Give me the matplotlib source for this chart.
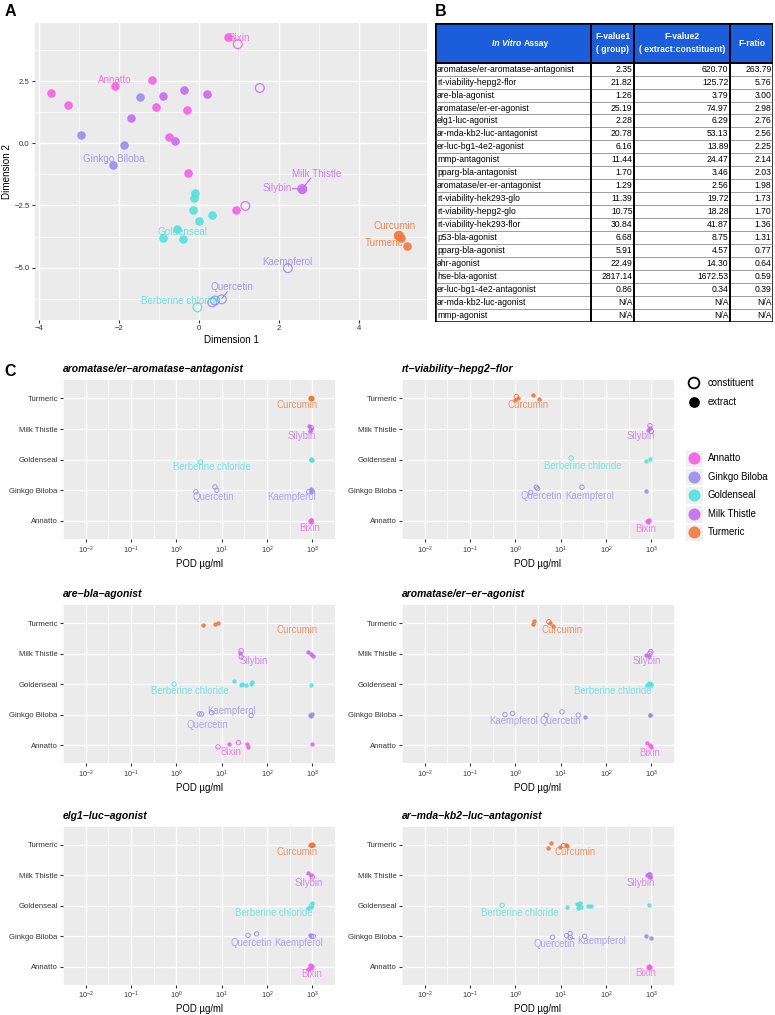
import numpy as np
import matplotlib
matplotlib.use("Agg")
import matplotlib.pyplot as plt
from matplotlib.patches import Rectangle
from matplotlib.ticker import LogFormatterMathtext, MultipleLocator

plt.rcParams['font.family'] = ['Liberation Sans', 'DejaVu Sans']
plt.rcParams['mathtext.default'] = 'regular'

W, H = 775, 1015

GROUPS = ['Annatto', 'Ginkgo Biloba', 'Goldenseal', 'Milk Thistle', 'Turmeric']
COLORS = {'Annatto': '#F95CE8', 'Ginkgo Biloba': '#9B8CEE', 'Goldenseal': '#50E3DE',
          'Milk Thistle': '#C66BF2', 'Turmeric': '#F4763A'}
AN, GB, GS, MT, TU = GROUPS

# ---- panel A: MDS coordinates (group, kind E=extract / C=constituent, dim1, dim2)
pca_points = [
    (AN, 'E', -3.69, 2.01), (AN, 'E', -3.27, 1.55), (AN, 'E', -2.11, 2.29), (AN, 'E', -1.18, 2.54),
    (AN, 'E', -1.08, 1.45), (AN, 'E', -0.74, 0.25), (AN, 'E', -0.31, 1.34), (AN, 'E', -0.27, -1.18),
    (AN, 'E', 0.93, -2.67), (AN, 'E', 0.73, 4.27), (AN, 'C', 0.97, 3.98),
    (GB, 'E', -1.48, 1.87), (GB, 'E', -2.96, 0.33), (GB, 'E', -1.88, -0.06), (GB, 'E', -2.14, -0.88),
    (GB, 'C', 2.22, -5.02), (GB, 'C', 0.33, -6.39), (GB, 'C', 0.40, -6.32), (GB, 'C', 0.57, -6.27),
    (GS, 'E', -0.11, -2.01), (GS, 'E', -0.125, -2.20), (GS, 'E', -0.16, -2.68), (GS, 'E', 0.0, -3.11),
    (GS, 'E', 0.32, -2.88), (GS, 'E', -0.54, -3.45), (GS, 'E', -0.89, -3.79), (GS, 'E', -0.41, -3.83),
    (GS, 'C', -0.04, -6.59),
    (MT, 'E', -0.89, 1.89), (MT, 'E', -0.37, 2.14), (MT, 'E', 0.21, 1.99), (MT, 'E', -1.69, 1.02),
    (MT, 'E', -0.61, 0.09), (MT, 'E', 2.58, -1.84), (MT, 'C', 2.58, -1.84),
    (MT, 'C', 1.52, 2.22), (MT, 'C', 1.16, -2.52),
    (TU, 'E', 4.98, -3.70), (TU, 'E', 5.05, -3.80), (TU, 'E', 5.20, -4.11), (TU, 'C', 5.00, -3.72),
]
pca_labels = [
    ('Bixin', AN, 1.01, 4.24), ('Annatto', AN, -2.10, 2.54), ('Ginkgo Biloba', GB, -2.14, -0.63),
    ('Milk Thistle', MT, 2.94, -1.25), ('Silybin', MT, 1.95, -1.81), ('Goldenseal', GS, -0.40, -3.57),
    ('Curcumin', TU, 4.89, -3.32), ('Turmeric', TU, 4.63, -4.02), ('Kaempferol', GB, 2.21, -4.78),
    ('Quercetin', GB, 0.83, -5.76), ('Berberine chloride', GS, -0.44, -6.32),
]
pca_leaders = [((2.34, -1.82), (2.58, -1.84)), ((2.79, -1.41), (2.60, -1.80)),
               ((0.71, -5.96), (0.57, -6.24))]

# ---- panel B: table
assays = ['aromatase/er-aromatase-antagonist', 'rt-viability-hepg2-flor', 'are-bla-agonist',
          'aromatase/er-er-agonist', 'elg1-luc-agonist', 'ar-mda-kb2-luc-antagonist',
          'er-luc-bg1-4e2-agonist', 'mmp-antagonist', 'pparg-bla-antagonist',
          'aromatase/er-er-antagonist', 'rt-viability-hek293-glo', 'rt-viability-hepg2-glo',
          'rt-viability-hek293-flor', 'p53-bla-agonist', 'pparg-bla-agonist', 'ahr-agonist',
          'hse-bla-agonist', 'er-luc-bg1-4e2-antagonist', 'ar-mda-kb2-luc-agonist', 'mmp-agonist']
f_value1 = [2.35, 21.82, 1.26, 25.19, 2.28, 20.78, 6.16, 11.44, 1.70, 1.29, 11.39, 10.75,
            30.84, 6.68, 5.91, 22.49, 2817.14, 0.86, None, None]
f_value2 = [620.70, 125.72, 3.79, 74.97, 6.29, 53.13, 13.89, 24.47, 3.46, 2.56, 19.72, 18.28,
            41.87, 8.75, 4.57, 14.30, 1672.53, 0.34, None, None]
f_ratio = [263.79, 5.76, 3.00, 2.98, 2.76, 2.56, 2.25, 2.14, 2.03, 1.98, 1.73, 1.70,
           1.36, 1.31, 0.77, 0.64, 0.59, 0.39, None, None]

# ---- panel C: POD values (group, kind, POD ug/ml, row position incl. jitter)
p_arom_antag = [
    (TU, 'E', 891, 5.0), (TU, 'E', 933, 5.02), (TU, 'E', 955, 4.99), (TU, 'E', 977, 5.01), (TU, 'C', 955, 5.0),
    (MT, 'E', 832, 4.11), (MT, 'C', 955, 4.04), (MT, 'E', 891, 3.94), (MT, 'E', 912, 4.0),
    (GS, 'E', 955, 3.0), (GS, 'E', 977, 2.98), (GS, 'E', 933, 3.02), (GS, 'C', 3.4, 2.92),
    (GB, 'C', 7.1, 2.11), (GB, 'C', 7.8, 2.0), (GB, 'C', 2.7, 1.95), (GB, 'E', 955, 2.05),
    (GB, 'C', 832, 1.95), (GB, 'C', 1000, 1.96), (GB, 'E', 933, 1.98),
    (AN, 'E', 891, 1.0), (AN, 'E', 933, 1.02), (AN, 'E', 955, 0.98), (AN, 'E', 912, 1.04),
]
l_arom_antag = [('Curcumin', TU, 468, 4.79), ('Silybin', MT, 589, 3.76), ('Berberine chloride', GS, 6.0, 2.76),
                ('Quercetin', GB, 6.5, 1.79), ('Kaempferol', GB, 347, 1.79), ('Bixin', AN, 891, 0.76)]

p_hepg2_flor = [
    (TU, 'C', 1.05, 5.06), (TU, 'E', 1.12, 5.0), (TU, 'E', 1.0, 4.96), (TU, 'E', 2.4, 5.12), (TU, 'E', 3.3, 4.98),
    (MT, 'C', 933, 4.11), (MT, 'E', 912, 4.03), (MT, 'E', 851, 3.98), (MT, 'C', 1000, 3.92),
    (GS, 'E', 776, 2.95), (GS, 'E', 955, 3.03), (GS, 'C', 17, 3.05),
    (GB, 'C', 2.9, 2.1), (GB, 'C', 3.1, 2.05), (GB, 'C', 2.2, 1.93), (GB, 'C', 29.5, 2.1), (GB, 'E', 776, 1.97),
    (AN, 'E', 794, 1.0), (AN, 'E', 851, 0.98), (AN, 'E', 871, 1.02),
]
l_hepg2_flor = [('Curcumin', TU, 1.9, 4.79), ('Silybin', MT, 575, 3.76), ('Berberine chloride', GS, 31, 2.78),
                ('Quercetin', GB, 3.8, 1.81), ('Kaempferol', GB, 42.7, 1.81), ('Bixin', AN, 759, 0.75)]

p_are_bla = [
    (TU, 'E', 3.8, 4.94), (TU, 'E', 7.1, 4.98), (TU, 'E', 8.3, 5.02),
    (MT, 'C', 26.9, 4.1), (MT, 'E', 25.7, 4.03), (MT, 'C', 26.9, 3.9), (MT, 'E', 813, 4.05),
    (MT, 'E', 912, 3.98), (MT, 'E', 1047, 3.94),
    (GS, 'C', 0.89, 3.0), (GS, 'E', 18.6, 3.09), (GS, 'E', 26.9, 2.97), (GS, 'E', 28.8, 3.02),
    (GS, 'E', 34.7, 2.97), (GS, 'E', 44.7, 3.02), (GS, 'E', 45.7, 3.07), (GS, 'E', 955, 2.97),
    (GB, 'C', 3.2, 2.02), (GB, 'C', 3.6, 2.02), (GB, 'C', 6.0, 2.06), (GB, 'C', 44.7, 1.97),
    (GB, 'E', 871, 2.0), (GB, 'E', 955, 1.97), (GB, 'E', 1000, 2.02),
    (AN, 'C', 8.3, 0.94), (AN, 'E', 14.8, 1.05), (AN, 'C', 23.4, 1.08), (AN, 'E', 36.3, 1.03),
    (AN, 'E', 38, 0.94), (AN, 'E', 1000, 1.03),
]
l_are_bla = [('Curcumin', TU, 468, 4.78), ('Silybin', MT, 51, 3.76), ('Berberine chloride', GS, 1.95, 2.78),
             ('Kaempferol', GB, 16.6, 2.13), ('Quercetin', GB, 4.9, 1.67), ('Bixin', AN, 15.8, 0.78)]

p_er_agonist = [
    (TU, 'E', 2.6, 5.09), (TU, 'E', 2.5, 4.96), (TU, 'C', 5.5, 5.05), (TU, 'E', 5.8, 5.0), (TU, 'E', 6.9, 4.92),
    (MT, 'E', 776, 3.96), (MT, 'C', 933, 4.01), (MT, 'C', 977, 4.07), (MT, 'E', 871, 3.94),
    (GS, 'E', 794, 2.98), (GS, 'E', 891, 3.03), (GS, 'E', 955, 3.0), (GS, 'C', 977, 2.95), (GS, 'E', 1000, 3.02),
    (GB, 'C', 0.59, 2.0), (GB, 'C', 0.87, 2.04), (GB, 'C', 4.8, 1.97), (GB, 'C', 10.7, 2.09),
    (GB, 'C', 24.5, 1.98), (GB, 'E', 33.9, 1.93), (GB, 'E', 912, 2.0), (GB, 'E', 955, 2.0),
    (AN, 'E', 794, 1.07), (AN, 'E', 912, 1.0), (AN, 'E', 1000, 0.92),
]
l_er_agonist = [('Curcumin', TU, 10.5, 4.78), ('Silybin', MT, 776, 3.76), ('Berberine chloride', GS, 138, 2.78),
                ('Kaempferol', GB, 0.91, 1.78), ('Quercetin', GB, 9.8, 1.78), ('Bixin', AN, 933, 0.75)]

p_elg1 = [
    (TU, 'E', 891, 5.0), (TU, 'E', 933, 5.01), (TU, 'E', 977, 4.99), (TU, 'E', 1047, 5.0), (TU, 'C', 1000, 5.0),
    (MT, 'E', 813, 4.09), (MT, 'E', 933, 4.0), (MT, 'C', 1000, 3.95),
    (GS, 'E', 1000, 3.1), (GS, 'E', 912, 2.97), (GS, 'E', 813, 2.92), (GS, 'C', 955, 3.0),
    (GB, 'C', 38, 2.03), (GB, 'C', 58.9, 2.08), (GB, 'E', 871, 2.03), (GB, 'C', 955, 2.0), (GB, 'C', 1047, 2.0),
    (AN, 'E', 813, 0.92), (AN, 'E', 891, 1.05), (AN, 'E', 955, 0.97), (AN, 'E', 1000, 1.03), (AN, 'E', 871, 0.95),
]
l_elg1 = [('Curcumin', TU, 468, 4.76), ('Silybin', MT, 813, 3.74), ('Berberine chloride', GS, 141, 2.77),
          ('Quercetin', GB, 45.7, 1.77), ('Kaempferol', GB, 500, 1.77), ('Bixin', AN, 977, 0.77)]

p_ar_antag = [
    (TU, 'E', 6.0, 5.08), (TU, 'E', 5.2, 4.9), (TU, 'C', 11.5, 4.98), (TU, 'E', 9.8, 4.94),
    (TU, 'E', 14.1, 4.96), (TU, 'E', 13.0, 5.0),
    (MT, 'E', 794, 4.0), (MT, 'E', 871, 4.04), (MT, 'E', 955, 3.96), (MT, 'C', 933, 4.02), (MT, 'E', 912, 3.94),
    (GS, 'C', 0.51, 3.02), (GS, 'E', 14.1, 2.97), (GS, 'E', 23.4, 3.06), (GS, 'E', 25.7, 3.02),
    (GS, 'E', 24.5, 2.94), (GS, 'E', 27.5, 2.97), (GS, 'E', 26.3, 3.08), (GS, 'E', 39.8, 3.0),
    (GS, 'E', 46.8, 2.98), (GS, 'E', 891, 3.02),
    (GB, 'C', 6.6, 1.97), (GB, 'C', 13.5, 2.02), (GB, 'C', 16.2, 2.09), (GB, 'C', 16.2, 1.96),
    (GB, 'C', 33.9, 2.0), (GB, 'E', 776, 2.02), (GB, 'E', 977, 1.93),
    (AN, 'E', 851, 1.0), (AN, 'E', 891, 1.03), (AN, 'E', 933, 0.98), (AN, 'E', 871, 0.96),
]
l_ar_antag = [('Curcumin', TU, 21, 4.76), ('Silybin', MT, 575, 3.76), ('Berberine chloride', GS, 1.23, 2.76),
              ('Quercetin', GB, 7.4, 1.75), ('Kaempferol', GB, 81, 1.86), ('Bixin', AN, 759, 0.78)]

panels = [
    ('aromatase/er\u2212aromatase\u2212antagonist', p_arom_antag, l_arom_antag, (63, 380, 335, 539.3)),
    ('rt\u2212viability\u2212hepg2\u2212flor', p_hepg2_flor, l_hepg2_flor, (402, 380, 674, 539.3)),
    ('are\u2212bla\u2212agonist', p_are_bla, l_are_bla, (63, 605, 335, 763.3)),
    ('aromatase/er\u2212er\u2212agonist', p_er_agonist, l_er_agonist, (402, 605, 674, 763.3)),
    ('elg1\u2212luc\u2212agonist', p_elg1, l_elg1, (63, 826.7, 335, 985)),
    ('ar\u2212mda\u2212kb2\u2212luc\u2212antagonist', p_ar_antag, l_ar_antag, (402, 826.7, 674, 985)),
]


def rect(l, t, r, b):
    return [l / W, 1 - b / H, (r - l) / W, (b - t) / H]


def gg_style(ax):
    ax.set_facecolor('#EBEBEB')
    for s in ax.spines.values():
        s.set_visible(False)
    ax.set_axisbelow(True)
    ax.tick_params(which='major', length=2.2, width=0.8, color='#333333',
                   labelsize=5.6, labelcolor='#333333', pad=1.5)
    ax.tick_params(which='minor', length=0)


def scatter_points(ax, pts, s_fill, s_open, lw, alpha):
    for g, k, x, y in pts:
        c = COLORS[g]
        if k == 'E':
            ax.scatter(x, y, s=s_fill, color=c, alpha=alpha, lw=0, zorder=3)
        else:
            ax.scatter(x, y, s=s_open, facecolor='none', edgecolor=c, lw=lw, alpha=alpha, zorder=4)


fig = plt.figure(figsize=(W / 100, H / 100), dpi=100)

# ---------------- A ----------------
axA = fig.add_axes(rect(35, 23, 427, 320))
gg_style(axA)
axA.set_xlim(-4.1, 5.7)
axA.set_ylim(-7.1, 4.83)
axA.xaxis.set_major_locator(MultipleLocator(2))
axA.xaxis.set_minor_locator(MultipleLocator(1))
axA.yaxis.set_major_locator(MultipleLocator(2.5))
axA.yaxis.set_minor_locator(MultipleLocator(1.25))
axA.grid(True, which='major', color='white', lw=1.0)
axA.grid(True, which='minor', color='white', lw=0.5)
scatter_points(axA, pca_points, 38, 40, 0.9, 0.9)
for txt, g, x, y in pca_labels:
    axA.text(x, y, txt, color=COLORS[g], fontsize=7.1, ha='center', va='center', alpha=0.85, zorder=5)
for (x0, y0), (x1, y1) in pca_leaders:
    axA.plot([x0, x1], [y0, y1], color=COLORS[MT] if y0 > -3 else COLORS[GB], lw=0.8, zorder=4)
axA.set_xlabel('Dimension 1', fontsize=7.1, labelpad=2)
axA.set_ylabel('Dimension 2', fontsize=7.1, labelpad=2)
fig.text(5 / W, 1 - 16 / H, 'A', fontsize=11.5, fontweight='bold')

# ---------------- B ----------------
axB = fig.add_axes(rect(435, 22.7, 773, 321.7))
axB.set_xlim(0, 338)
axB.set_ylim(299, 0)
axB.axis('off')
col_edges = [0, 156, 199, 295, 338]
head_h = 40
row_h = (299 - head_h) / len(assays)
axB.add_patch(Rectangle((0, 0), 338, head_h, facecolor='#1C5DDB', edgecolor='none'))
fs = 6.2
axB.text(86.5, 20.6, 'In Vitro', color='white', fontsize=fs, fontweight='bold', fontstyle='italic',
         ha='right', va='center')
axB.text(88.5, 20.6, 'Assay', color='white', fontsize=fs, fontweight='bold', ha='left', va='center')
heads = ['F-value1\n( group)', 'F-value2\n( extract:constituent)', 'F-ratio']
for i, h in enumerate(heads):
    cx = (col_edges[i + 1] + col_edges[i + 2]) / 2
    axB.text(cx, 20.6, h, color='white', fontsize=fs, fontweight='bold', ha='center', va='center',
             linespacing=1.6)
for i, name in enumerate(assays):
    yc = head_h + (i + 0.5) * row_h
    axB.text(2, yc, name, fontsize=fs, ha='left', va='center')
    for j, v in enumerate([f_value1[i], f_value2[i], f_ratio[i]]):
        s = 'N/A' if v is None else f'{v:.2f}'
        axB.text(col_edges[j + 2] - 1.5, yc, s, fontsize=fs, ha='right', va='center')
    if i > 0:
        axB.plot([0, 338], [head_h + i * row_h] * 2, color='#555555', lw=0.4)
for x in col_edges[1:-1]:
    axB.plot([x, x], [0, 299], color='black', lw=1.4)
axB.plot([0, 338], [head_h, head_h], color='black', lw=1.4)
axB.add_patch(Rectangle((0, 0), 338, 299, facecolor='none', edgecolor='black', lw=1.8))
fig.text(435 / W, 1 - 15.5 / H, 'B', fontsize=11.5, fontweight='bold')

# ---------------- C ----------------
fig.text(4 / W, 1 - 376 / H, 'C', fontsize=11.5, fontweight='bold')
for title, pts, labs, box in panels:
    ax = fig.add_axes(rect(*box))
    gg_style(ax)
    ax.set_xscale('log')
    ax.set_xlim(10 ** -2.26, 10 ** 3.25)
    ax.set_ylim(0.4, 5.6)
    ax.set_xticks([10.0 ** k for k in range(-2, 4)])
    ax.set_xticks([10.0 ** (k + 0.5) for k in range(-3, 4)], minor=True)
    ax.xaxis.set_major_formatter(LogFormatterMathtext())
    ax.xaxis.set_minor_formatter(plt.NullFormatter())
    ax.tick_params(axis='x', labelsize=5.2)
    ax.set_yticks(range(1, 6))
    ax.set_yticklabels(GROUPS)
    ax.grid(True, which='major', color='white', lw=1.0)
    ax.grid(True, which='minor', axis='x', color='white', lw=0.5)
    scatter_points(ax, pts, 10, 10, 0.7, 0.9)
    for txt, g, x, y in labs:
        ax.text(x, y, txt, color=COLORS[g], fontsize=6.9, ha='center', va='center', alpha=0.75, zorder=5)
    ax.set_xlabel('POD \u00b5g/ml', fontsize=6.9, labelpad=2)
    ax.set_title(title, loc='left', fontsize=7.5, fontweight='bold', fontstyle='italic', pad=5.5)

# leader in ar-mda panel
fig.axes[-1].plot([16.2, 20], [1.96, 1.92], color=COLORS[GB], lw=0.7, zorder=4)

# ---------------- legend ----------------
axL = fig.add_axes(rect(676, 370, 775, 545))
axL.set_xlim(676, 775)
axL.set_ylim(545, 370)
axL.axis('off')
axL.scatter(694, 383, s=60, facecolor='none', edgecolor='black', lw=1.3)
axL.scatter(694, 401.7, s=60, color='black', lw=0)
axL.text(708, 383, 'constituent', fontsize=6.9, va='center')
axL.text(708, 401.7, 'extract', fontsize=6.9, va='center')
for g, yc in zip(GROUPS, [458.3, 476.7, 495, 514, 532.3]):
    axL.add_patch(Rectangle((685.3, yc - 8.7), 17.4, 17.4, facecolor='#F0F0F0', edgecolor='white', lw=0.8))
    axL.scatter(694, yc, s=75, color=COLORS[g], alpha=0.9, lw=0)
    axL.text(708, yc, g, fontsize=6.9, va='center')

fig.savefig('out.png', dpi=100)
